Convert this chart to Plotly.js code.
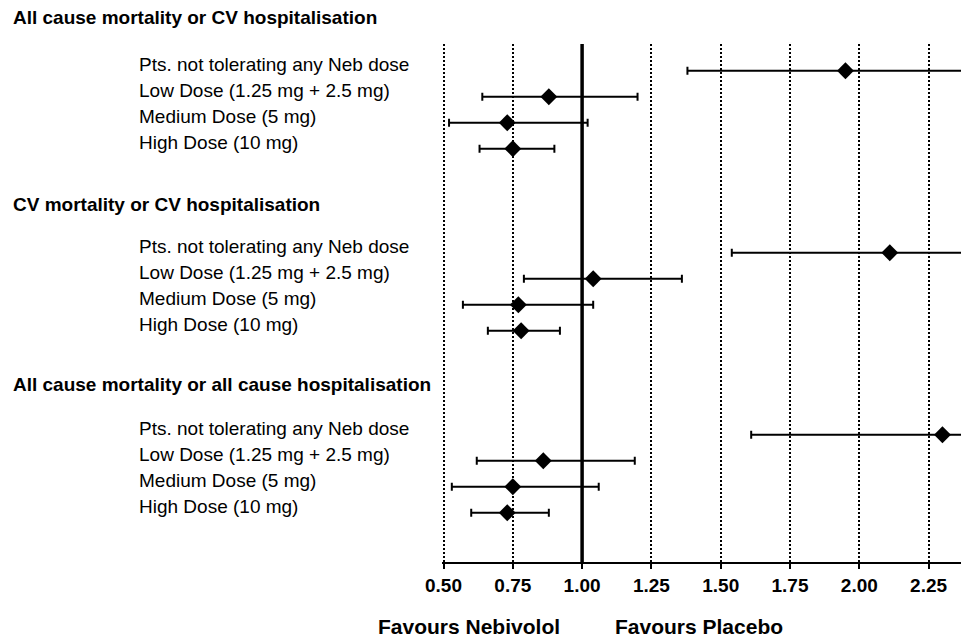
<!DOCTYPE html>
<html>
<head>
<meta charset="utf-8">
<script src="https://cdn.plot.ly/plotly-3.0.1.min.js"></script>
<style>html,body{margin:0;padding:0;background:#fff;}#chart{width:961px;height:640px;}</style>
</head>
<body>
<div id="chart"></div>
<script>
// ---- data ----
const groups = [
  "All cause mortality or CV hospitalisation",
  "CV mortality or CV hospitalisation",
  "All cause mortality or all cause hospitalisation"
];
const doses = [
  "Pts. not tolerating any Neb dose",
  "Low Dose (1.25 mg + 2.5 mg)",
  "Medium Dose (5 mg)",
  "High Dose (10 mg)"
];
const hr1 = [1.95, 0.88, 0.73, 0.75];
const lo1 = [1.38, 0.64, 0.52, 0.63];
const hi1 = [2.80, 1.20, 1.02, 0.90];
const hr2 = [2.11, 1.04, 0.77, 0.78];
const lo2 = [1.54, 0.79, 0.57, 0.66];
const hi2 = [2.90, 1.36, 1.04, 0.92];
const hr3 = [2.30, 0.86, 0.75, 0.73];
const lo3 = [1.61, 0.62, 0.53, 0.60];
const hi3 = [3.20, 1.19, 1.06, 0.88];
const tickVals = [0.50, 0.75, 1.00, 1.25, 1.50, 1.75, 2.00, 2.25];
const leftLabel = "Favours Nebivolol";
const rightLabel = "Favours Placebo";

// ---- layout helpers ----
const HR = [hr1, hr2, hr3], LO = [lo1, lo2, lo3], HI = [hi1, hi2, hi3];
const groupStep = 7;
const headerPaperY = [1.0521, 0.6892, 0.3417];
const FONT = "Liberation Sans, Arial, Helvetica, sans-serif";
const pxPerUnit = 277.2;
const xStart = 0.5 - 1.5 / pxPerUnit;
const xEnd = xStart + 519 / pxPerUnit;

const traces = [];
const annotations = [];
HR.forEach((hr, g) => {
  const ys = hr.map((_, r) => g * groupStep + r);
  traces.push({
    type: "scatter", mode: "markers",
    x: hr, y: ys,
    marker: {symbol: "diamond", size: 13, color: "#000"},
    error_x: {
      type: "data", symmetric: false,
      array: hr.map((v, i) => HI[g][i] - v),
      arrayminus: hr.map((v, i) => v - LO[g][i]),
      color: "#000", thickness: 2, width: 4
    },
    showlegend: false, hoverinfo: "skip"
  });
  annotations.push({
    xref: "paper", yref: "paper", x: -0.8304, y: headerPaperY[g],
    xanchor: "left", yanchor: "middle", showarrow: false,
    text: "<b>" + groups[g] + "</b>",
    font: {family: FONT, size: 19, color: "#000"}
  });
  doses.forEach((d, r) => {
    annotations.push({
      xref: "paper", yref: "y", x: -0.5877, y: g * groupStep + r, yshift: 6,
      xanchor: "left", yanchor: "middle", showarrow: false,
      text: d,
      font: {family: FONT, size: 19, color: "#000"}
    });
  });
});
annotations.push({
  xref: "paper", yref: "paper", x: 0.2312, y: -0.1236,
  xanchor: "right", yanchor: "middle", showarrow: false,
  text: "<b>" + leftLabel + "</b>",
  font: {family: FONT, size: 21, color: "#000"}
});
annotations.push({
  xref: "paper", yref: "paper", x: 0.3295, y: -0.1236,
  xanchor: "left", yanchor: "middle", showarrow: false,
  text: "<b>" + rightLabel + "</b>",
  font: {family: FONT, size: 21, color: "#000"}
});

const layout = {
  width: 961, height: 640,
  margin: {l: 442, r: 0, t: 44, b: 78, pad: 0},
  paper_bgcolor: "#fff", plot_bgcolor: "#fff",
  font: {family: FONT, color: "#000"},
  xaxis: {
    range: [xStart, xEnd],
    tickmode: "array", tickvals: tickVals,
    ticktext: tickVals.map(v => "<b>" + v.toFixed(2) + "</b>"),
    tickfont: {family: FONT, size: 19, color: "#000"},
    showline: true, linecolor: "#000", linewidth: 2,
    ticks: "outside", ticklen: 5, tickwidth: 2, tickcolor: "#000",
    showgrid: true, gridcolor: "#000", gridwidth: 2, griddash: "2px,2px",
    zeroline: false, fixedrange: true
  },
  yaxis: {
    range: [18.896, -1.027],
    showgrid: false, zeroline: false, showline: false,
    showticklabels: false, ticks: "", fixedrange: true
  },
  shapes: [{
    type: "line", xref: "x", yref: "paper", x0: 1, x1: 1, y0: 0, y1: 1,
    line: {color: "#000", width: 3.5}, layer: "above"
  }],
  annotations: annotations,
  showlegend: false
};

Plotly.newPlot("chart", traces, layout, {displayModeBar: false, staticPlot: true});
</script>
</body>
</html>
